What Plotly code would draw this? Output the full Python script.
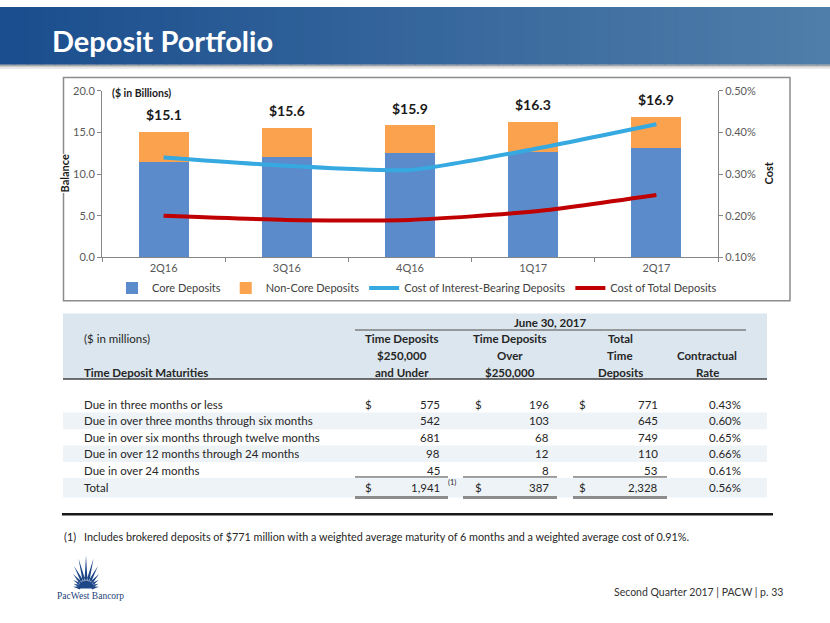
import math
import plotly.graph_objects as go

W, H = 830, 623

# ---------------- data ----------------
quarters = ["2Q16", "3Q16", "4Q16", "1Q17", "2Q17"]
core_deposits = [11.4, 12.0, 12.5, 12.7, 13.2]
noncore_deposits = [3.7, 3.6, 3.4, 3.6, 3.7]
cost_interest_bearing = [0.0034, 0.0032, 0.0031, 0.0036, 0.0042]
cost_total = [0.0020, 0.0019, 0.0019, 0.0021, 0.0025]

maturities = [
    "Due in three months or less",
    "Due in over three months through six months",
    "Due in over six months through twelve months",
    "Due in over 12 months through 24 months",
    "Due in over 24 months",
]
td_under_250k = [575, 542, 681, 98, 45]
td_over_250k = [196, 103, 68, 12, 8]
td_total = [771, 645, 749, 110, 53]
contract_rate = ["0.43%", "0.60%", "0.65%", "0.66%", "0.61%"]
total_rate = "0.56%"

FONT = "Lato"
TXT = "#262626"


def px(x):
    return x / W


def py(y):
    return 1 - y / H


fig = go.Figure()
fig.add_bar(x=quarters, y=core_deposits, name="Core Deposits",
            marker=dict(color="#5B8BCB", line=dict(width=0)), width=0.405)
fig.add_bar(x=quarters, y=noncore_deposits, name="Non-Core Deposits",
            marker=dict(color="#FBA24F", line=dict(width=0)), width=0.405)
fig.add_scatter(x=quarters, y=cost_interest_bearing, yaxis="y2", mode="lines",
                name="Cost of Interest-Bearing Deposits",
                line=dict(color="#36A9E1", width=4, shape="spline", smoothing=0.6))
fig.add_scatter(x=quarters, y=cost_total, yaxis="y2", mode="lines",
                name="Cost of Total Deposits",
                line=dict(color="#C00000", width=4, shape="spline", smoothing=0.6))

shapes = []
ann = []

# ---- banner (stepped gradient) ----
c0 = (0x1B, 0x4E, 0x8E)
c1 = (0x50, 0x7E, 0xAA)
N = 60
for i in range(N):
    t = i / (N - 1)
    col = tuple(int(c0[k] + (c1[k] - c0[k]) * t) for k in range(3))
    shapes.append(dict(type="rect", xref="paper", yref="paper",
                       x0=px(W * i / N), x1=px(W * (i + 1) / N + 1),
                       y0=py(59), y1=py(0), line=dict(width=0),
                       fillcolor="rgb(%d,%d,%d)" % col, layer="below"))
for k, g in enumerate(["#9a9a9a", "#c4c4c4", "#e4e4e4"]):
    shapes.append(dict(type="rect", xref="paper", yref="paper",
                       x0=0, x1=1, y0=py(60 + k + 1), y1=py(59 + k + 0.01),
                       line=dict(width=0), fillcolor=g, layer="below"))
ann.append(dict(text="<b>Deposit Portfolio</b>", x=px(50), y=py(34), xref="paper", yref="paper",
                xanchor="left", yanchor="middle", showarrow=False,
                font=dict(family=FONT, size=29, color="white")))

# ---- chart frame ----
shapes.append(dict(type="rect", xref="paper", yref="paper", x0=px(63.5), x1=px(790),
                   y0=py(300), y1=py(72), line=dict(color="#8c8c8c", width=1.5),
                   fillcolor="rgba(0,0,0,0)", layer="below"))

# bar total labels
for q, c, n in zip(quarters, core_deposits, noncore_deposits):
    ann.append(dict(text="<b>$%.1f</b>" % (c + n), x=q, y=c + n, xref="x", yref="y",
                    yshift=17, showarrow=False, yanchor="middle",
                    font=dict(family=FONT, size=14, color="#1a1a1a")))

ann.append(dict(text="<b>($ in Billions)</b>", x=px(110), y=py(88), xref="paper", yref="paper",
                xanchor="left", yanchor="middle", showarrow=False,
                font=dict(family=FONT, size=10.5, color="#1a1a1a")))
ann.append(dict(text="<b>Balance</b>", x=px(64), y=py(170), xref="paper", yref="paper",
                textangle=-90, showarrow=False, xanchor="center", yanchor="middle",
                bgcolor="white", borderpad=0,
                font=dict(family=FONT, size=11, color="#1a1a1a")))
ann.append(dict(text="<b>Cost</b>", x=px(768), y=py(170), xref="paper", yref="paper",
                textangle=-90, showarrow=False, xanchor="center", yanchor="middle",
                font=dict(family=FONT, size=11, color="#1a1a1a")))

# ---------------- table ----------------
TL, TR = 63, 767
shapes.append(dict(type="rect", xref="paper", yref="paper", x0=px(TL), x1=px(TR),
                   y0=py(380), y1=py(313), line=dict(width=0), fillcolor="#DCE6EE", layer="below"))
row_y = [406 + 16.75 * i for i in range(5)]
total_y = 491
for i, y in enumerate(row_y):
    if i % 2 == 1:
        shapes.append(dict(type="rect", xref="paper", yref="paper", x0=px(TL), x1=px(TR),
                           y0=py(y + 8.5), y1=py(y - 8.5), line=dict(width=0),
                           fillcolor="#EEF3F7", layer="below"))
shapes.append(dict(type="rect", xref="paper", yref="paper", x0=px(TL), x1=px(TR),
                   y0=py(501), y1=py(481), line=dict(width=0), fillcolor="#EEF3F7", layer="below"))


def hline(x0, x1, y, color, width):
    shapes.append(dict(type="line", xref="paper", yref="paper", x0=px(x0), x1=px(x1),
                       y0=py(y), y1=py(y), line=dict(color=color, width=width)))


hline(355, 746, 330, "#7f7f7f", 1.5)
hline(TL, TR, 380, "#404040", 1.5)
cols = [(355, 448), (463, 557), (573, 667)]
for a, b in cols:
    hline(a, b, 480, "#404040", 1)
    hline(a, b, 501, "#8c8c8c", 3)
hline(62, 773, 518, "#1a1a1a", 2.5)


def text(s, x, y, anchor="left", size=12, bold=False, color=TXT):
    ann.append(dict(text=("<b>%s</b>" % s) if bold else s, x=px(x), y=py(y),
                    xref="paper", yref="paper", xanchor=anchor, yanchor="middle",
                    showarrow=False, font=dict(family=FONT, size=size, color=color)))


TS = 11.5
text("June 30, 2017", 550, 322, "center", TS, True)
text("($ in millions)", 82, 339, "left", TS)
text("Time Deposit Maturities", 82, 373, "left", TS, True)
hdr = [(402, ["Time Deposits", "$250,000", "and Under"]),
       (510, ["Time Deposits", "Over", "$250,000"]),
       (620, ["Total", "Time", "Deposits"]),
       (707, ["", "Contractual", "Rate"])]
for cx, lines in hdr:
    for j, s in enumerate(lines):
        if s:
            text(s, cx, 339 + 17 * j, "center", TS, True)

dollar_x = [363, 473, 577]
right_x = [442, 551, 660]
rate_x = 743
for i, (lab, a, b, c, r) in enumerate(zip(maturities, td_under_250k, td_over_250k, td_total, contract_rate)):
    y = row_y[i]
    text(lab, 82, y, "left", TS)
    for k, v in enumerate([a, b, c]):
        if i == 0:
            text("$", dollar_x[k], y, "left", TS)
        text("{:,}".format(v), right_x[k], y, "right", TS)
    text(r, rate_x, y, "right", TS)

text("Total", 82, total_y, "left", TS)
for k, vals in enumerate([td_under_250k, td_over_250k, td_total]):
    text("$", dollar_x[k], total_y, "left", TS)
    text("{:,}".format(sum(vals)), right_x[k], total_y, "right", TS)
text(total_rate, rate_x, total_y, "right", TS)
text("(1)", 446, total_y - 5, "left", 7.5)

# footnote
text("(1)", 62, 541, "left", 10.8)
text("Includes brokered deposits of $771 million with a weighted average maturity of 6 months "
     "and a weighted average cost of 0.91%.", 82, 541, "left", 10.8)

# footer
text("Second Quarter 2017 | PACW | p. 33", 785, 597, "right", 10.5, False, "#333333")

# ---- logo ----
cx, cy = 86, 594
path = ""
for k in range(13):
    ang = math.radians(8 + k * (164 / 12))
    s = math.sin(ang)
    L = 13 + 21 * s ** 4
    bw = 0.11
    tip = (cx + L * math.cos(ang), cy - L * s)
    p1 = (cx + 6 * math.cos(ang - bw * 2.5), cy - 6 * math.sin(ang - bw * 2.5))
    p2 = (cx + 6 * math.cos(ang + bw * 2.5), cy - 6 * math.sin(ang + bw * 2.5))
    path += "M %f,%f L %f,%f L %f,%f Z " % (px(p1[0]), py(p1[1]), px(tip[0]), py(tip[1]),
                                           px(p2[0]), py(p2[1]))
shapes.append(dict(type="path", xref="paper", yref="paper", path=path,
                   fillcolor="#1E4787", line=dict(width=0)))
arc = "M %f,%f " % (px(cx - 8), py(cy))
for k in range(0, 181, 10):
    a = math.radians(180 - k)
    arc += "L %f,%f " % (px(cx + 8 * math.cos(a)), py(cy - 8 * math.sin(a)))
arc += "Z"
shapes.append(dict(type="path", xref="paper", yref="paper", path=arc,
                   fillcolor="#1E4787", line=dict(width=0)))
ann.append(dict(text="PacWest Bancorp", x=px(90), y=py(602), xref="paper", yref="paper",
                xanchor="center", yanchor="middle", showarrow=False,
                font=dict(family="Liberation Serif", size=9.5, color="#1E3F7A")))

axis_common = dict(showgrid=False, zeroline=False, showline=True, linecolor="#868686",
                   linewidth=1, ticks="outside", ticklen=4, tickcolor="#868686",
                   tickfont=dict(family=FONT, size=11, color="#595959"))

fig.update_layout(
    width=W, height=H, margin=dict(l=0, r=0, t=0, b=0),
    paper_bgcolor="white", plot_bgcolor="rgba(0,0,0,0)",
    barmode="stack", bargap=0.6,
    xaxis=dict(domain=[px(102), px(718)], type="category", range=[-0.5, 4.5],
               tickson="boundaries", **axis_common),
    yaxis=dict(domain=[py(255.7), py(85.7)], range=[0, 20], tickvals=[0, 5, 10, 15, 20],
               tickformat=".1f", **axis_common),
    yaxis2=dict(overlaying="y", side="right", range=[0.001, 0.005],
                tickvals=[0.001, 0.002, 0.003, 0.004, 0.005], tickformat=".2%",
                **axis_common),
    legend=dict(orientation="h", x=px(417), xanchor="center", y=py(287), yanchor="middle",
                font=dict(family=FONT, size=11, color="#404040"), bgcolor="rgba(0,0,0,0)",
                traceorder="normal", itemwidth=30),
    shapes=shapes, annotations=ann, showlegend=True,
)
fig.write_html("out.html", config={"displayModeBar": False},
               post_script="document.body.style.margin='0';document.body.style.padding='0';"
                           "document.body.style.overflow='hidden';"
                           "document.documentElement.style.overflow='hidden';"
                           "var d=document.getElementById('{plot_id}');"
                           "d.style.position='fixed';d.style.top='0px';d.style.left='0px';")
